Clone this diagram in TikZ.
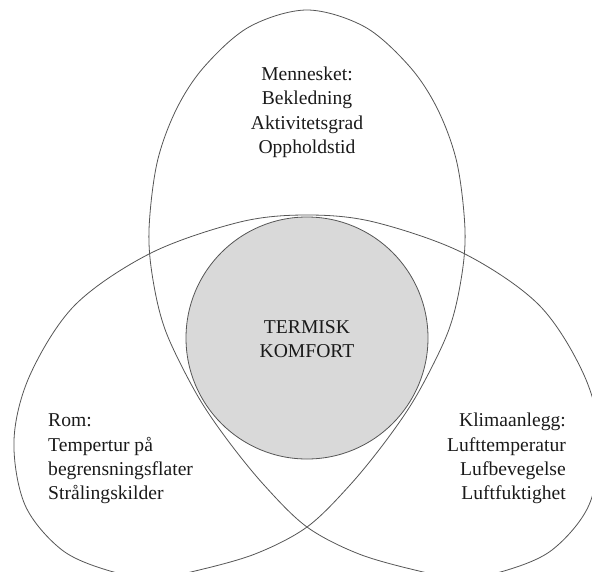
\documentclass[tikz,border=0pt]{standalone}
\usepackage{fontspec}
\setmainfont{Liberation Serif}
\definecolor{fillgray}{HTML}{D9D9D9}
\definecolor{linegray}{HTML}{555555}
\definecolor{txt}{HTML}{1A1A1A}
\begin{document}
\begin{tikzpicture}[x=1pt,y=-1pt,
  lbl/.style={inner sep=0pt,text=txt,font=\fontsize{19.6pt}{24pt}\selectfont},
  outline/.style={draw=linegray,line width=0.8pt},
  core/.style={draw=linegray,line width=0.8pt,fill=fillgray}]
\useasboundingbox (0,0) rectangle (592,571);
\begin{scope}
\clip (0,0) rectangle (592,571);
\draw[outline] plot[smooth cycle,tension=0.55] coordinates {
 (155,578) (195,571) (255,554) (307,527) (350,485) (388,438) (418,393)
 (448,332) (461,280) (465,230) (457,163) (438,110) (410,67) (365,27)
 (307,10) (249,27) (204,67) (176,110) (157,163) (149,230) (153,280)
 (166,332) (196,393) (226,438) (264,485) (307,527) (359,554) (419,571)
 (459,578) (504,571) (552,550) (589,505) (600,440) (584,375) (539,305)
 (463,253) (374,222) (307,215) (240,222) (151,253) (75,305) (30,375)
 (14,440) (25,505) (62,550) (110,571)};
\end{scope}
\node[core,circle,minimum size=242pt,inner sep=0pt] (core) at (307,338) {};
% texts
\node[lbl,anchor=base] (m1) at (307,80) {Mennesket:};
\node[lbl,anchor=base] (m2) at (307,104.5) {Bekledning};
\node[lbl,anchor=base] (m3) at (307,129) {Aktivitetsgrad};
\node[lbl,anchor=base] (m4) at (307,153.5) {Oppholdstid};
\node[lbl,anchor=base] (t1) at (307,333) {TERMISK};
\node[lbl,anchor=base] (t2) at (307,357) {KOMFORT};
\node[lbl,anchor=base west] (r1) at (48,426) {Rom:};
\node[lbl,anchor=base west] (r2) at (48,451) {Tempertur på};
\node[lbl,anchor=base west] (r3) at (48,475) {begrensningsflater};
\node[lbl,anchor=base west] (r4) at (48,499) {Strålingskilder};
\node[lbl,anchor=base east] (k1) at (566,426) {Klimaanlegg:};
\node[lbl,anchor=base east] (k2) at (566,451) {Lufttemperatur};
\node[lbl,anchor=base east] (k3) at (566,475) {Lufbevegelse};
\node[lbl,anchor=base east] (k4) at (566,499) {Luftfuktighet};
\end{tikzpicture}
\end{document}
